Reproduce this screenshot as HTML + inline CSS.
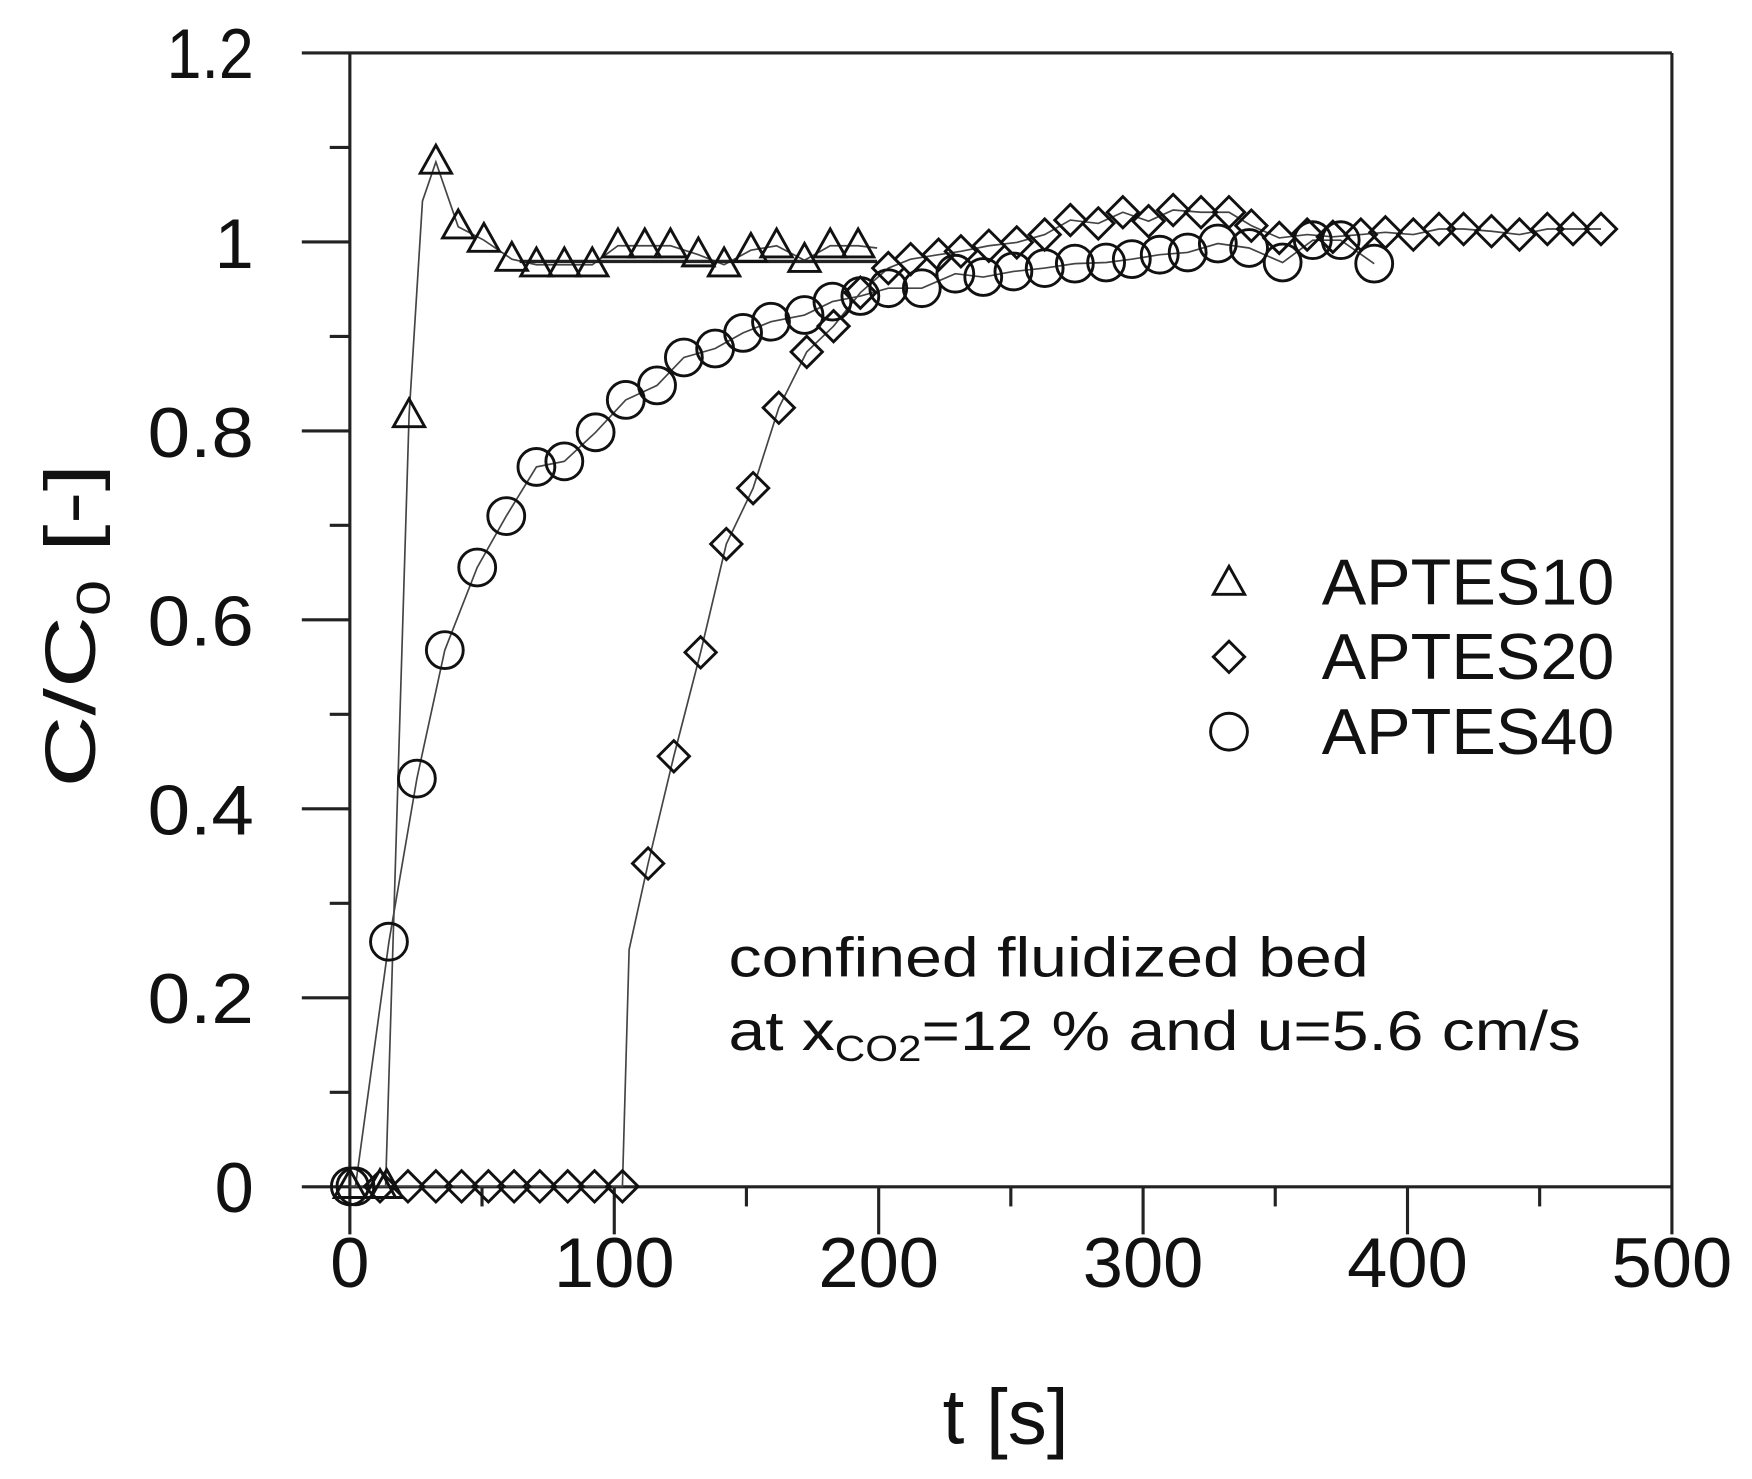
<!DOCTYPE html>
<html><head><meta charset="utf-8"><style>
html,body{margin:0;padding:0;background:#fff;}
svg{display:block;}
text{font-family:"Liberation Sans",Arial,sans-serif;fill:#111;}
</style></head><body>
<svg width="1752" height="1479" viewBox="0 0 1568 1324" xmlns="http://www.w3.org/2000/svg">
<defs>
<path id="tri" d="M0,-15 L14,10 L-14,10 Z" fill="none" stroke="#111" stroke-width="2.6"/>
<path id="dia" d="M0,-14 L14,0 L0,14 L-14,0 Z" fill="none" stroke="#111" stroke-width="2.6"/>
<circle id="cir" r="16.5" fill="none" stroke="#111" stroke-width="2.6"/>
</defs>
<g stroke="#222" stroke-width="2.8" fill="none">
<line x1="270" y1="47.4" x2="1496.5" y2="47.4"/>
<line x1="313" y1="47.4" x2="313" y2="1105"/>
<line x1="1496.5" y1="47.4" x2="1496.5" y2="1105"/>
<line x1="270" y1="1062.4" x2="1496.5" y2="1062.4"/>
</g>
<g stroke="#222" stroke-width="2.8">
<line x1="270" y1="893.2" x2="313" y2="893.2"/><line x1="270" y1="724.1" x2="313" y2="724.1"/>
<line x1="270" y1="554.9" x2="313" y2="554.9"/><line x1="270" y1="385.8" x2="313" y2="385.8"/>
<line x1="270" y1="216.6" x2="313" y2="216.6"/>
<line x1="295" y1="977.8" x2="313" y2="977.8"/><line x1="295" y1="808.6" x2="313" y2="808.6"/>
<line x1="295" y1="639.5" x2="313" y2="639.5"/><line x1="295" y1="470.3" x2="313" y2="470.3"/>
<line x1="295" y1="301.2" x2="313" y2="301.2"/><line x1="295" y1="132" x2="313" y2="132"/>
<line x1="549.7" y1="1062" x2="549.7" y2="1105"/><line x1="786.4" y1="1062" x2="786.4" y2="1105"/>
<line x1="1023.1" y1="1062" x2="1023.1" y2="1105"/><line x1="1259.8" y1="1062" x2="1259.8" y2="1105"/>
<line x1="431.3" y1="1062" x2="431.3" y2="1080"/><line x1="668" y1="1062" x2="668" y2="1080"/>
<line x1="904.7" y1="1062" x2="904.7" y2="1080"/><line x1="1141.4" y1="1062" x2="1141.4" y2="1080"/>
<line x1="1378.1" y1="1062" x2="1378.1" y2="1080"/>
</g>
<g font-size="63" text-anchor="end">
<text x="227" y="1085">0</text><text x="227" y="916" textLength="95" lengthAdjust="spacingAndGlyphs">0.2</text><text x="227" y="747" textLength="95" lengthAdjust="spacingAndGlyphs">0.4</text>
<text x="227" y="578" textLength="95" lengthAdjust="spacingAndGlyphs">0.6</text><text x="227" y="409" textLength="95" lengthAdjust="spacingAndGlyphs">0.8</text><text x="227" y="240">1</text><text x="227" y="70" textLength="78" lengthAdjust="spacingAndGlyphs">1.2</text>
</g>
<g font-size="63" text-anchor="middle">
<text x="313" y="1152">0</text><text x="549.7" y="1152" textLength="108" lengthAdjust="spacingAndGlyphs">100</text><text x="786.4" y="1152" textLength="108" lengthAdjust="spacingAndGlyphs">200</text>
<text x="1023.1" y="1152" textLength="108" lengthAdjust="spacingAndGlyphs">300</text><text x="1259.8" y="1152" textLength="108" lengthAdjust="spacingAndGlyphs">400</text><text x="1496.5" y="1152" textLength="108" lengthAdjust="spacingAndGlyphs">500</text>
<text x="900" y="1292" font-size="70">t [s]</text>
</g>
<text transform="translate(85,560) rotate(-90)" font-size="64" text-anchor="middle" textLength="290" lengthAdjust="spacingAndGlyphs">C/C<tspan font-size="42" dy="13">0</tspan><tspan dy="-13"> [-]</tspan></text>
<text x="652" y="874" font-size="50" textLength="573" lengthAdjust="spacingAndGlyphs">confined fluidized bed</text>
<text x="652" y="940" font-size="50" textLength="763" lengthAdjust="spacingAndGlyphs">at x<tspan font-size="32" dy="10">CO2</tspan><tspan dy="-10">=12 % and u=5.6 cm/s</tspan></text>
<use href="#tri" x="1100" y="522"/>
<use href="#dia" x="1100" y="588"/>
<use href="#cir" x="1100" y="655"/>
<g font-size="58"><text x="1183" y="541" textLength="262" lengthAdjust="spacingAndGlyphs">APTES10</text><text x="1183" y="608" textLength="262" lengthAdjust="spacingAndGlyphs">APTES20</text><text x="1183" y="675" textLength="262" lengthAdjust="spacingAndGlyphs">APTES40</text></g>
<g fill="none" stroke="#444" stroke-width="1.5">
<polyline points="313,1062 340,1062 345,1062 366,372 378,180 390,145 410,203 433,215 458,232 480,237 505,237 530,237 553,220 577,220 600,220 625,228 648,237 672,224 695,220 720,233 743,220 768,220 785,222"/>
<polyline points="340,1062 557,1062 563,850 580,773 603,677 627,584 650,487 674,437 697,365 722,315 746,292 770,262 795,240 815,232 840,228 860,225 885,220 910,217 935,210 958,197 983,200 1005,190 1028,198 1050,188 1075,190 1100,190 1120,202 1145,213 1170,210 1193,212 1218,210 1240,208 1265,210 1288,205 1310,205 1335,207 1360,210 1385,205 1408,205 1433,205"/>
<polyline points="313,1062 318,1062 348,843 373,697 398,582 427,508 453,462 480,418 505,413 533,387 560,358 588,345 612,320 640,312 665,298 690,288 720,282 745,270 770,265 795,258 825,258 855,245 880,248 907,243 935,240 962,236 990,235 1013,232 1038,228 1063,226 1090,218 1118,222 1148,235 1175,215 1200,215 1230,236"/>
</g>
<line x1="465" y1="234" x2="785" y2="234" stroke="#222" stroke-width="3"/>
<g>
<use href="#tri" x="313" y="1062"/><use href="#tri" x="340" y="1062"/><use href="#tri" x="346" y="1062"/>
<use href="#tri" x="366" y="372"/><use href="#tri" x="390" y="145"/><use href="#tri" x="410" y="203"/>
<use href="#tri" x="433" y="215"/><use href="#tri" x="458" y="232"/><use href="#tri" x="480" y="237"/>
<use href="#tri" x="505" y="237"/><use href="#tri" x="530" y="237"/><use href="#tri" x="553" y="220"/>
<use href="#tri" x="577" y="220"/><use href="#tri" x="600" y="220"/><use href="#tri" x="625" y="228"/>
<use href="#tri" x="648" y="237"/><use href="#tri" x="672" y="224"/><use href="#tri" x="695" y="220"/>
<use href="#tri" x="720" y="233"/><use href="#tri" x="743" y="220"/><use href="#tri" x="768" y="220"/>
</g>
<g>
<use href="#dia" x="340" y="1062"/><use href="#dia" x="365" y="1062"/><use href="#dia" x="390" y="1062"/>
<use href="#dia" x="413" y="1062"/><use href="#dia" x="437" y="1062"/><use href="#dia" x="460" y="1062"/>
<use href="#dia" x="483" y="1062"/><use href="#dia" x="508" y="1062"/><use href="#dia" x="532" y="1062"/>
<use href="#dia" x="557" y="1062"/><use href="#dia" x="580" y="773"/><use href="#dia" x="603" y="677"/>
<use href="#dia" x="627" y="584"/><use href="#dia" x="650" y="487"/><use href="#dia" x="674" y="437"/>
<use href="#dia" x="697" y="365"/><use href="#dia" x="722" y="315"/><use href="#dia" x="746" y="292"/>
<use href="#dia" x="770" y="262"/><use href="#dia" x="795" y="240"/><use href="#dia" x="815" y="232"/>
<use href="#dia" x="840" y="228"/><use href="#dia" x="860" y="225"/><use href="#dia" x="885" y="220"/>
<use href="#dia" x="910" y="217"/><use href="#dia" x="935" y="210"/><use href="#dia" x="958" y="197"/>
<use href="#dia" x="983" y="200"/><use href="#dia" x="1005" y="190"/><use href="#dia" x="1028" y="198"/>
<use href="#dia" x="1050" y="188"/><use href="#dia" x="1075" y="190"/><use href="#dia" x="1100" y="190"/>
<use href="#dia" x="1120" y="202"/><use href="#dia" x="1145" y="213"/><use href="#dia" x="1170" y="210"/>
<use href="#dia" x="1193" y="212"/><use href="#dia" x="1218" y="210"/><use href="#dia" x="1240" y="208"/>
<use href="#dia" x="1265" y="210"/><use href="#dia" x="1288" y="205"/><use href="#dia" x="1310" y="205"/>
<use href="#dia" x="1335" y="207"/><use href="#dia" x="1360" y="210"/><use href="#dia" x="1385" y="205"/>
<use href="#dia" x="1408" y="205"/><use href="#dia" x="1433" y="205"/>
</g>
<g>
<use href="#cir" x="313" y="1062"/><use href="#cir" x="318" y="1062"/><use href="#cir" x="348" y="843"/>
<use href="#cir" x="373" y="697"/><use href="#cir" x="398" y="582"/><use href="#cir" x="427" y="508"/>
<use href="#cir" x="453" y="462"/><use href="#cir" x="480" y="418"/><use href="#cir" x="505" y="413"/>
<use href="#cir" x="533" y="387"/><use href="#cir" x="560" y="358"/><use href="#cir" x="588" y="345"/>
<use href="#cir" x="612" y="320"/><use href="#cir" x="640" y="312"/><use href="#cir" x="665" y="298"/>
<use href="#cir" x="690" y="288"/><use href="#cir" x="720" y="282"/><use href="#cir" x="745" y="270"/>
<use href="#cir" x="770" y="265"/><use href="#cir" x="795" y="258"/><use href="#cir" x="825" y="258"/>
<use href="#cir" x="855" y="245"/><use href="#cir" x="880" y="248"/><use href="#cir" x="907" y="243"/>
<use href="#cir" x="935" y="240"/><use href="#cir" x="962" y="236"/><use href="#cir" x="990" y="235"/>
<use href="#cir" x="1013" y="232"/><use href="#cir" x="1038" y="228"/><use href="#cir" x="1063" y="226"/>
<use href="#cir" x="1090" y="218"/><use href="#cir" x="1118" y="222"/><use href="#cir" x="1148" y="235"/>
<use href="#cir" x="1175" y="215"/><use href="#cir" x="1200" y="215"/><use href="#cir" x="1230" y="236"/>
</g>
</svg>
</body></html>
